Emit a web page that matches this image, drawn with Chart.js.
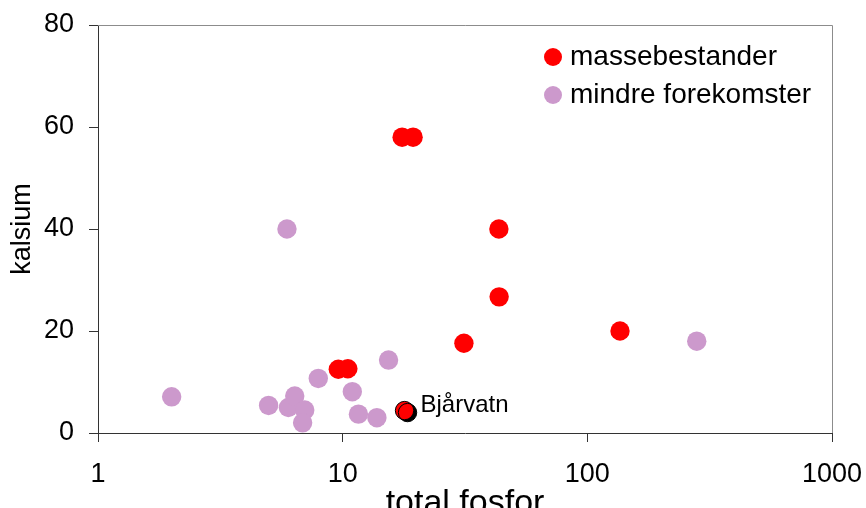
<!DOCTYPE html>
<html>
<head>
<meta charset="utf-8">
<script src="https://cdn.jsdelivr.net/npm/chart.js@4.4.1/dist/chart.umd.min.js"></script>
<style>
  html, body { margin: 0; padding: 0; background: #fff; }
  #wrap { width: 866px; height: 508px; }
</style>
</head>
<body>
<div id="wrap"><canvas id="c" width="866" height="508"></canvas></div>
<script>
// total fosfor (x) / kalsium (y)
var masseX = [17.5, 19.4, 43.5, 43.6, 31.3, 136, 9.6, 10.5];
var masseY = [58, 58, 40, 26.7, 17.6, 20, 12.5, 12.6];
var mindreX = [2.0, 4.98, 6.0, 6.37, 7.0, 6.86, 7.95, 10.95, 11.6, 13.8, 15.4, 5.92, 280];
var mindreY = [7.1, 5.4, 5.0, 7.25, 4.5, 2.0, 10.7, 8.1, 3.7, 3.0, 14.3, 40, 18];
var bjarX = [17.9];
var bjarY = [4.4];
var bjarLabel = "Bjårvatn";
var xTicks = [1, 10, 100, 1000];
var yTicks = [0, 20, 40, 60, 80];

var FONT = "'Liberation Sans', Arial, sans-serif";

function pts(xs, ys) {
  return xs.map(function (x, i) { return { x: x, y: ys[i] }; });
}

// grey frame on top and right of plot area
var frame = {
  id: "frame",
  beforeDatasetsDraw: function (chart) {
    var a = chart.chartArea, ctx = chart.ctx;
    ctx.save();
    ctx.strokeStyle = "#8c8c8c";
    ctx.lineWidth = 1;
    ctx.beginPath();
    ctx.moveTo(a.left, a.top + 0.5);
    ctx.lineTo(a.right + 0.5, a.top + 0.5);
    ctx.lineTo(a.right + 0.5, a.bottom);
    ctx.stroke();
    ctx.restore();
  }
};

// black drop shadow for Bjårvatn and its label
var bjarPlugin = {
  id: "bjar",
  beforeDatasetDraw: function (chart, args) {
    if (args.index !== 2) return;
    var ctx = chart.ctx;
    ctx.save();
    ctx.shadowColor = "#000";
    ctx.shadowOffsetX = 3;
    ctx.shadowOffsetY = 2;
    ctx.shadowBlur = 0;
  },
  afterDatasetDraw: function (chart, args) {
    if (args.index !== 2) return;
    var ctx = chart.ctx;
    ctx.restore();
    var p = args.meta.data[0];
    ctx.save();
    ctx.fillStyle = "#000";
    ctx.font = "24px " + FONT;
    ctx.textBaseline = "alphabetic";
    ctx.fillText(bjarLabel, p.x + 16, p.y + 1);
    ctx.restore();
  }
};

// legend in the upper right of the plot
var legendPlugin = {
  id: "legendBox",
  afterDraw: function (chart) {
    var ctx = chart.ctx;
    var ds = chart.data.datasets.slice(0, 2);
    ctx.save();
    ctx.font = "28px " + FONT;
    ds.forEach(function (d, i) {
      var cy = 57 + i * 38;
      ctx.fillStyle = d.backgroundColor;
      ctx.beginPath();
      ctx.arc(553, cy, 9, 0, Math.PI * 2);
      ctx.fill();
      ctx.fillStyle = "#000";
      ctx.fillText(d.label, 570, cy + 8);
    });
    ctx.restore();
  }
};

new Chart(document.getElementById("c"), {
  type: "scatter",
  data: {
    datasets: [
      { label: "massebestander", data: pts(masseX, masseY), backgroundColor: "#ff0000", borderWidth: 0, pointRadius: 9.7, pointHoverRadius: 9.7 },
      { label: "mindre forekomster", data: pts(mindreX, mindreY), backgroundColor: "#cc99cc", borderWidth: 0, pointRadius: 9.7, pointHoverRadius: 9.7 },
      { label: bjarLabel, data: pts(bjarX, bjarY), backgroundColor: "#ff0000", borderColor: "#000", borderWidth: 1, pointRadius: 9.2, pointHoverRadius: 9.2 }
    ]
  },
  options: {
    responsive: false,
    animation: false,
    events: [],
    layout: { padding: { top: 25, right: 34, left: 0, bottom: 0 } },
    plugins: { legend: { display: false }, tooltip: { enabled: false } },
    scales: {
      x: {
        type: "logarithmic",
        min: 1,
        max: 1000,
        afterBuildTicks: function (s) { s.ticks = xTicks.map(function (v) { return { value: v }; }); },
        afterFit: function (s) { s.height = 75; s.paddingLeft = 0; s.paddingRight = 0; },
        grid: { drawOnChartArea: false, tickLength: 9, color: "#333" },
        border: { color: "#333" },
        ticks: { color: "#000", padding: 16, maxRotation: 0, font: { family: FONT, size: 27 }, callback: function (v) { return String(v); } },
        title: { display: true, text: "total fosfor", color: "#000", font: { family: FONT, size: 34, lineHeight: 0.25 }, padding: 0 }
      },
      y: {
        min: 0,
        max: 80,
        afterBuildTicks: function (s) { s.ticks = yTicks.map(function (v) { return { value: v }; }); },
        afterFit: function (s) { s.width = 98; s.paddingTop = 0; s.paddingBottom = 0; },
        grid: { drawOnChartArea: false, tickLength: 9, color: "#333" },
        border: { color: "#333" },
        ticks: { color: "#000", padding: 15, font: { family: FONT, size: 27 } },
        title: { display: true, text: "kalsium", color: "#000", font: { family: FONT, size: 27 }, padding: { top: 6, bottom: 0 } }
      }
    }
  },
  plugins: [frame, bjarPlugin, legendPlugin]
});
</script>
</body>
</html>
